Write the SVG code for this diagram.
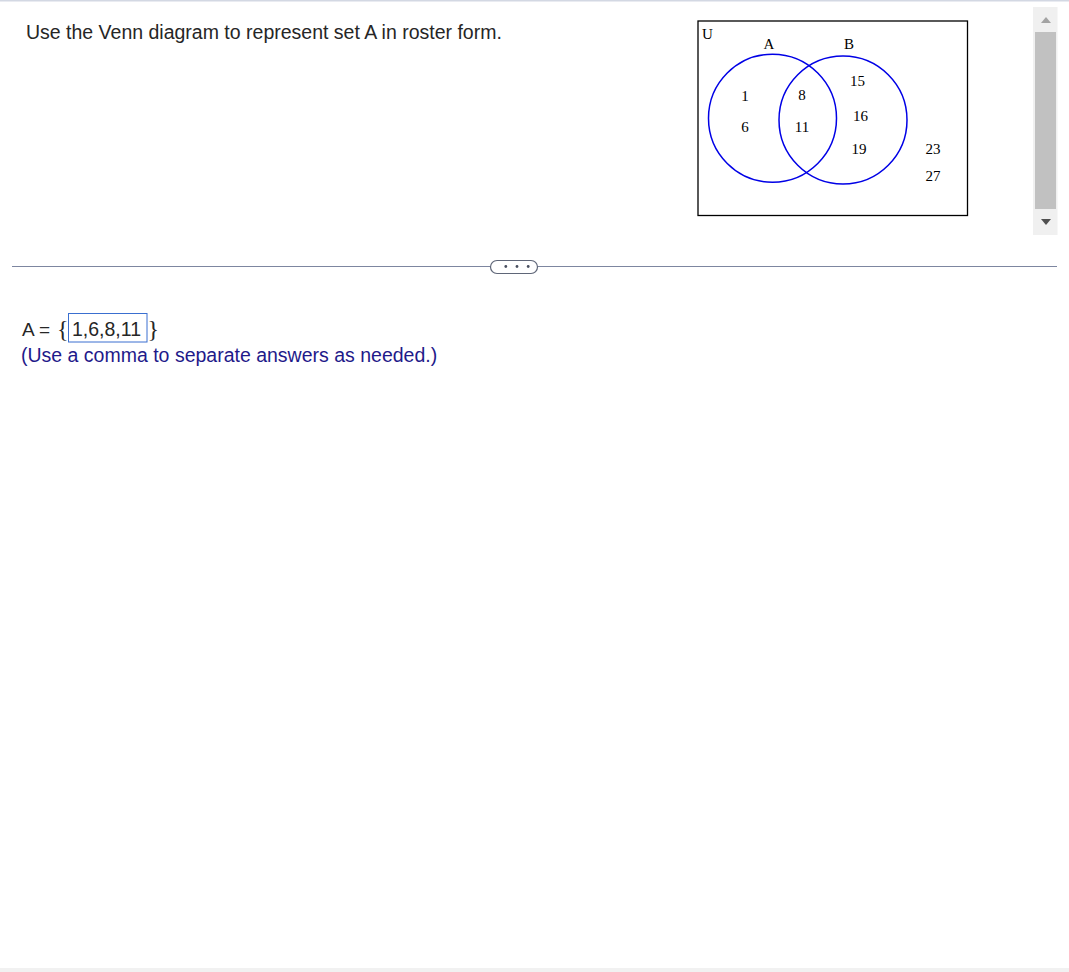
<svg xmlns="http://www.w3.org/2000/svg" width="1069" height="972" viewBox="0 0 1069 972">
<style>
.ui{font-family:"Liberation Sans",Arial,sans-serif}
.vn{font-family:"Liberation Serif","Times New Roman",serif;font-size:15px;fill:#000;text-anchor:middle}
.circ{fill:none;stroke:#0000e6;stroke-width:1.5}
</style>
<rect width="1069" height="972" fill="#ffffff"/>
<rect x="0" y="0" width="1069" height="1.5" fill="#d3d8e3"/>
<rect x="0" y="968" width="1069" height="4" fill="#f1f1f1"/>
<g id="question">
<text class="ui" x="26" y="39" font-size="19.5" fill="#262626">Use the Venn diagram to represent set A in roster form.</text>
</g>
<g id="venn">
<rect x="698" y="21" width="269.5" height="194.5" fill="#fff" stroke="#000" stroke-width="1.3"/>
<text x="702" y="39" font-family="Liberation Serif,serif" font-size="15" fill="#000">U</text>
<circle class="circ" cx="772.5" cy="118.3" r="64"/>
<circle class="circ" cx="843" cy="120" r="64"/>
<text class="vn" x="769" y="49" font-size="16">A</text>
<text class="vn" x="849" y="49" font-size="16">B</text>
<text class="vn" x="745" y="101">1</text>
<text class="vn" x="745" y="132">6</text>
<text class="vn" x="802" y="100">8</text>
<text class="vn" x="802" y="132">11</text>
<text class="vn" x="857.5" y="86">15</text>
<text class="vn" x="860.5" y="121">16</text>
<text class="vn" x="859" y="154">19</text>
<text class="vn" x="933" y="154">23</text>
<text class="vn" x="933" y="181">27</text>
</g>
<g id="scrollbar">
<rect x="1033" y="7" width="24.5" height="228" fill="#f0f0f0"/>
<rect x="1035" y="32" width="21" height="177" fill="#c1c1c1"/>
<polygon points="1041,23 1051,23 1046,17" fill="#a3a3a3"/>
<polygon points="1041,219 1051,219 1046,225" fill="#505050"/>
</g>
<g id="separator">
<line x1="12" y1="266.5" x2="490" y2="266.5" stroke="#7d86a0" stroke-width="1"/>
<line x1="538" y1="266.5" x2="1057" y2="266.5" stroke="#7d86a0" stroke-width="1"/>
<rect x="490.5" y="260.5" width="47" height="13" rx="6.5" fill="#fff" stroke="#5f6678" stroke-width="1.2"/>
<circle cx="505.8" cy="266.5" r="1.4" fill="#4a5060"/>
<circle cx="517" cy="266.5" r="1.4" fill="#4a5060"/>
<circle cx="528.2" cy="266.5" r="1.4" fill="#4a5060"/>
</g>
<g id="answer">
<text class="ui" x="22" y="336" font-size="19" fill="#262626">A =</text>
<text x="57" y="337" font-family="Liberation Serif,serif" font-size="24" fill="#262626">{</text>
<rect x="68.5" y="313.5" width="78.5" height="28.5" fill="#fff" stroke="#3a6fd0" stroke-width="1"/>
<text class="ui" x="72" y="336" font-size="19.5" fill="#262626">1,6,8,11</text>
<text x="147.5" y="337" font-family="Liberation Serif,serif" font-size="24" fill="#262626">}</text>
<text class="ui" x="21" y="362" font-size="19.5" fill="#1f1a8a">(Use a comma to separate answers as needed.)</text>
</g>
</svg>
